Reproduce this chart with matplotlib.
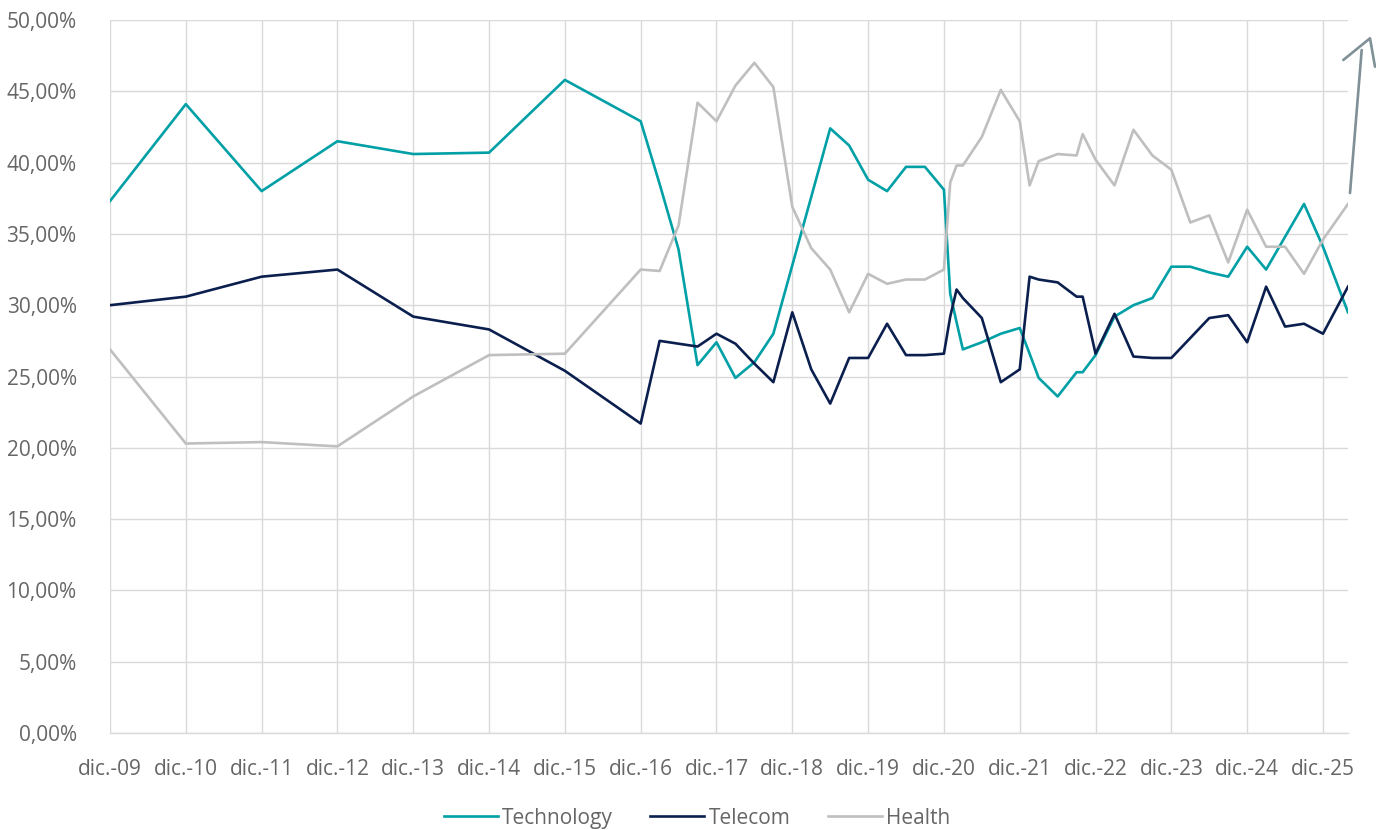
import matplotlib.pyplot as plt
from matplotlib.lines import Line2D

# years since dic.-09 (annual up to dic.-16, then quarterly, with a few monthly points)
x_pos = [0, 1, 2, 3, 4, 5, 6, 7,
         7.25, 7.5, 7.75, 8, 8.25, 8.5, 8.75, 9, 9.25, 9.5, 9.75, 10,
         10.25, 10.5, 10.75, 11, 11.083, 11.167, 11.25, 11.5, 11.75, 12,
         12.13, 12.25, 12.5, 12.75, 12.83, 13, 13.25, 13.5, 13.75, 14,
         14.25, 14.5, 14.75, 15, 15.25, 15.5, 15.75, 16, 16.33]

technology = [37.3, 44.1, 38.0, 41.5, 40.6, 40.7, 45.8, 42.9,
              38.5, 33.9, 25.8, 27.4, 24.9, 26.0, 28.0, 32.8, 37.6, 42.4, 41.2, 38.8,
              38.0, 39.7, 39.7, 38.1, 30.8, 28.8, 26.9, 27.4, 28.0, 28.4,
              26.6, 24.9, 23.6, 25.3, 25.3, 26.5, 29.2, 30.0, 30.5, 32.7,
              32.7, 32.3, 32.0, 34.1, 32.5, 34.8, 37.1, 34.1, 29.5]

telecom = [30.0, 30.6, 32.0, 32.5, 29.2, 28.3, 25.4, 21.7,
           27.5, 27.3, 27.1, 28.0, 27.3, 25.9, 24.6, 29.5, 25.5, 23.1, 26.3, 26.3,
           28.7, 26.5, 26.5, 26.6, 29.2, 31.1, 30.5, 29.1, 24.6, 25.5,
           32.0, 31.8, 31.6, 30.6, 30.6, 26.6, 29.4, 26.4, 26.3, 26.3,
           27.7, 29.1, 29.3, 27.4, 31.3, 28.5, 28.7, 28.0, 31.3]

health = [26.9, 20.3, 20.4, 20.1, 23.6, 26.5, 26.6, 32.5,
          32.4, 35.6, 44.2, 42.9, 45.4, 47.0, 45.3, 36.9, 34.0, 32.5, 29.5, 32.2,
          31.5, 31.8, 31.8, 32.5, 38.6, 39.8, 39.8, 41.8, 45.1, 42.9,
          38.4, 40.1, 40.6, 40.5, 42.0, 40.2, 38.4, 42.3, 40.5, 39.5,
          35.8, 36.3, 33.0, 36.7, 34.1, 34.1, 32.2, 34.6, 37.1]

year_labels = ["dic.-%02d" % y for y in range(9, 26)]
y_ticks = list(range(0, 55, 5))

plt.rcParams["font.family"] = ["Open Sans", "DejaVu Sans"]
text_color = "#666666"

fig = plt.figure(figsize=(13.76, 8.3), dpi=100)
ax = fig.add_axes([110 / 1376, 97 / 830, 1238 / 1376, 713 / 830])

ax.plot(x_pos, technology, color="#00A0A6", lw=1.9, label="Technology", zorder=3)
ax.plot(x_pos, telecom, color="#0B1F4F", lw=1.9, label="Telecom", zorder=3)
ax.plot(x_pos, health, color="#BFBFBF", lw=1.9, label="Health", zorder=3)

ax.set_xlim(0, 16.33)
ax.set_ylim(0, 50)
ax.set_xticks(range(len(year_labels)))
ax.set_xticklabels(year_labels)
ax.set_yticks(y_ticks)
ax.set_yticklabels([f"{v},00%" for v in y_ticks])
ax.tick_params(length=0, labelsize=15, colors=text_color)
ax.tick_params(axis="x", pad=19)
ax.tick_params(axis="y", pad=24)
ax.grid(True, color="#D9D9D9", lw=1.0, zorder=0)
for s in ["top", "right", "left"]:
    ax.spines[s].set_visible(False)
ax.spines["bottom"].set_color("#D9D9D9")
ax.spines["bottom"].set_linewidth(1.0)

fig.legend(*ax.get_legend_handles_labels(), loc="center",
           bbox_to_anchor=(697 / 1376, 1 - 818 / 830), ncol=3, frameon=False,
           fontsize=15, labelcolor=text_color, handlelength=2.6, handletextpad=0.2,
           columnspacing=1.8, borderpad=0)

# hand-drawn arrow in the top right corner
def fig_pt(px, py):
    return px / 1376, 1 - py / 830

arrow_color = "#7F9097"
for seg in [[(1350, 193), (1361.7, 50)],
            [(1343.3, 60), (1370, 38.3), (1375, 66.7)]]:
    xs, ys = zip(*[fig_pt(*p) for p in seg])
    fig.add_artist(Line2D(xs, ys, color=arrow_color, lw=1.9, solid_capstyle="round",
                          solid_joinstyle="round"))

fig.savefig("out.png", dpi=100)
